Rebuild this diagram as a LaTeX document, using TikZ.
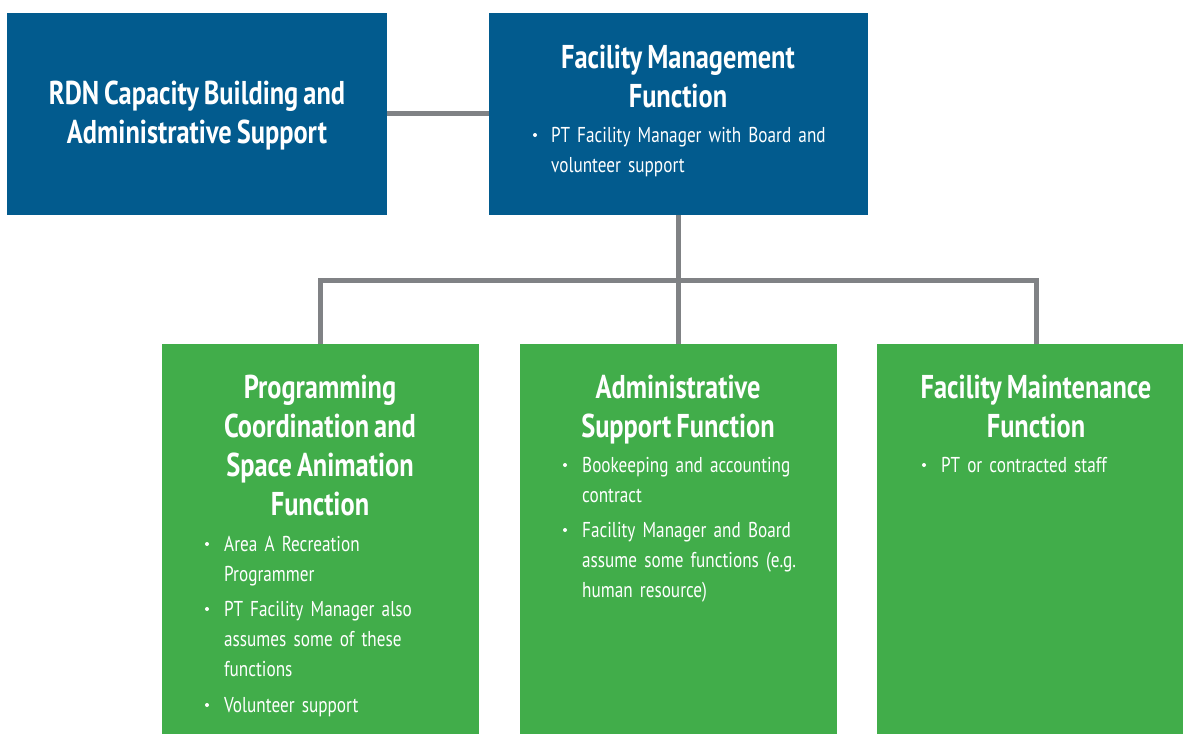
\documentclass[tikz,border=0pt]{standalone}
\usepackage{fontspec}
\setmainfont{PT Sans}[FakeStretch=0.80,WordSpace=0.75]
\begin{document}
\begin{tikzpicture}[x=1pt,y=-1pt,
  bluebox/.style={fill=orgblue,draw=none,inner sep=0pt,anchor=north west},
  greenbox/.style={fill=orggreen,draw=none,inner sep=0pt,anchor=north west},
  conn/.style={draw=conngray,line width=5pt},
  head/.style={text=white,font=\bfseries\fontsize{33}{39}\selectfont,align=center,anchor=base,inner sep=0pt},
  body/.style={text=white,font=\fontsize{21.5}{30}\selectfont,align=left,anchor=base west,inner sep=0pt},
  dot/.style={circle,fill=white,inner sep=0pt,minimum size=4pt}]
\definecolor{orgblue}{HTML}{025B8E}
\definecolor{orggreen}{HTML}{41AD4A}
\definecolor{conngray}{HTML}{808285}
\useasboundingbox (0,0) rectangle (1183,734);
% boxes
\node[bluebox,minimum width=380pt,minimum height=202pt] (rdn) at (7,13) {};
\node[bluebox,minimum width=379pt,minimum height=202pt] (fm) at (489,13) {};
\node[greenbox,minimum width=317pt,minimum height=390pt] (prog) at (162,344) {};
\node[greenbox,minimum width=317pt,minimum height=390pt] (adm) at (520,344) {};
\node[greenbox,minimum width=306pt,minimum height=390pt] (maint) at (877,344) {};
% connectors
\coordinate (bus) at (678,280);
\draw[conn] (rdn.east |- 0,113) -- (fm.west |- 0,113);
\draw[conn] (fm.south -| bus) -- (bus);
\draw[conn] (prog.north -| 320,0) -- (320,280) -- (1036,280) -- (maint.north -| 1036,0);
\draw[conn] (bus) -- (adm.north -| bus);
% texts
\node[head] (t1) at (197,143) {RDN Capacity Building and\\Administrative Support};
\node[head] (t2) at (678,107) {Facility Management\\Function};
\node[dot] (d2a) at (535,135) {};
\node[body,text width=300pt] (b2a) at (551,142) {PT Facility Manager with Board and\\volunteer support};
\node[head] (t3) at (320,515) {Programming\\Coordination and\\Space Animation\\Function};
\node[dot] (d3a) at (207,544) {};
\node[body,text width=240pt] (b3a) at (224,551) {Area A Recreation\\Programmer};
\node[dot] (d3b) at (207,609) {};
\node[body,text width=240pt] (b3b) at (224,616) {PT Facility Manager also\\assumes some of these\\functions};
\node[dot] (d3c) at (207,705) {};
\node[body,text width=240pt] (b3c) at (224,712) {Volunteer support};
\node[head] (t4) at (678,437) {Administrative\\Support Function};
\node[dot] (d4a) at (565,465) {};
\node[body,text width=240pt] (b4a) at (582,472) {Bookeeping and accounting\\contract};
\node[dot] (d4b) at (565,530) {};
\node[body,text width=240pt] (b4b) at (582,537) {Facility Manager and Board\\assume some functions (e.g.\\human resource)};
\node[head] (t5) at (1036,437) {Facility Maintenance\\Function};
\node[dot] (d5a) at (924,465) {};
\node[body,text width=240pt] (b5a) at (941,472) {PT or contracted staff};
\end{tikzpicture}
\end{document}
